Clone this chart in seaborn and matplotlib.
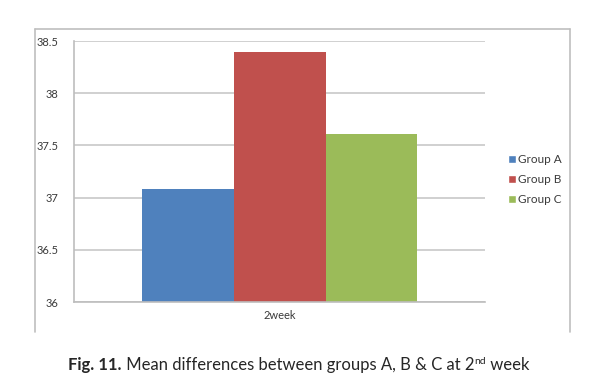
import matplotlib
matplotlib.use('Agg')
import matplotlib.pyplot as plt
import seaborn as sns
import pandas as pd
from matplotlib.lines import Line2D

# Dados do gráfico
semana = ['2week', '2week', '2week']
grupos = ['Group A', 'Group B', 'Group C']
medias = [37.08, 38.40, 37.61]
cores = ['#4F81BD', '#C0504D', '#9BBB59']
ticks_y = [36, 36.5, 37, 37.5, 38, 38.5]
rotulos_y = ['36', '36.5', '37', '37.5', '38', '38.5']

df = pd.DataFrame({'Semana': semana, 'Grupo': grupos, 'Media': medias})

sns.set_style('white')
plt.rcParams['font.family'] = ['Lato', 'DejaVu Sans']

fig = plt.figure(figsize=(6.02, 3.86), dpi=100)
ax = fig.add_axes([0.123, 0.2176, 0.683, 0.676])

sns.barplot(data=df, x='Semana', y='Media', hue='Grupo', palette=cores,
            width=0.67, saturation=1, linewidth=0, ax=ax, legend=False)

ax.set_ylim(36, 38.5)
ax.set_yticks(ticks_y)
ax.set_yticklabels(rotulos_y)
ax.set_xlim(-0.5, 0.5)
ax.set_xlabel('')
ax.set_ylabel('')

# Grade e eixos no estilo Excel
ax.yaxis.grid(True, color='#C8C8C8', linewidth=1.2)
ax.set_axisbelow(True)
for lado in ['top', 'right']:
    ax.spines[lado].set_visible(False)
ax.spines['left'].set_color('#BDBDBD')
ax.spines['bottom'].set_color('#BDBDBD')
ax.spines['left'].set_linewidth(1.2)
ax.spines['bottom'].set_linewidth(1.2)
ax.tick_params(axis='y', length=3, color='#BDBDBD', labelsize=8, labelcolor='#3A3A3A', pad=8)
ax.tick_params(axis='x', length=0, labelsize=8, labelcolor='#3A3A3A', pad=6)

# Legenda
handles = [Line2D([0], [0], marker='s', color='w', markerfacecolor=c,
                  markersize=5.5, label=g) for g, c in zip(grupos, cores)]
fig.legend(handles=handles, loc='center left', bbox_to_anchor=(0.825, 0.535),
           frameon=False, fontsize=8.5, handletextpad=0.1, labelspacing=0.75,
           handlelength=0.8, labelcolor='#3A3A3A')

# Moldura externa (sem base)
W, H = 602, 386
x0, x1, y0, y1 = 35 / W, 570 / W, 1 - 29 / H, 1 - 332 / H
for xs, ys in [([x0, x0], [y1, y0]), ([x0, x1], [y0, y0]), ([x1, x1], [y0, y1])]:
    fig.add_artist(Line2D(xs, ys, transform=fig.transFigure, color='#BFBFBF', linewidth=1.2))

# Legenda da figura, em partes (negrito + texto + sobrescrito)
t1 = fig.text(68 / W, 1 - 370 / H, 'Fig. 11.', fontsize=12, fontweight='bold',
              ha='left', va='baseline')
t2 = fig.text(0, 0, ' Mean differences between groups A, B & C at 2', fontsize=12)
t2.set_transform(matplotlib.transforms.offset_copy(fig.transFigure, fig=fig))
fig.canvas.draw()
r = fig.canvas.get_renderer()
bb1 = t1.get_window_extent(r)
t2.remove()
t2 = fig.text(bb1.x1 / fig.bbox.width, 1 - 370 / H,
              ' Mean differences between groups A, B & C at 2', fontsize=12,
              ha='left', va='baseline')
bb2 = t2.get_window_extent(r)
t3 = fig.text(bb2.x1 / fig.bbox.width, 1 - 364 / H, 'nd', fontsize=7.5,
              ha='left', va='baseline')
bb3 = t3.get_window_extent(r)
fig.text(bb3.x1 / fig.bbox.width, 1 - 370 / H, ' week', fontsize=12,
         ha='left', va='baseline')

fig.savefig('out.png', dpi=100)
